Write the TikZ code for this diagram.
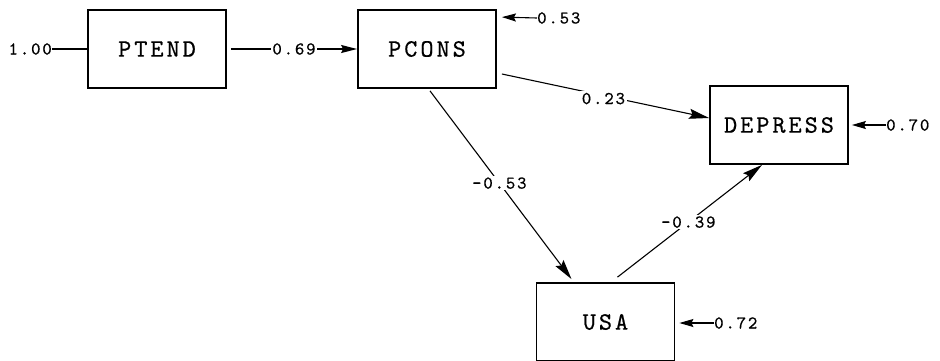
\documentclass[tikz,border=0pt]{standalone}
\usepackage{fontspec}
\newfontfamily\boxfont{lmmono10-regular}[Extension=.otf,LetterSpace=12,FakeBold=0.6]
\newfontfamily\numfont{lmmono10-regular}[Extension=.otf,LetterSpace=10,FakeBold=0.6]
\usetikzlibrary{arrows.meta}
\begin{document}
\begin{tikzpicture}[x=1pt,y=-1pt,
  varbox/.style={draw,line width=1.8pt,minimum width=138pt,minimum height=78pt,inner sep=0pt,font=\boxfont\fontsize{25}{27}\selectfont},
  path/.style={line width=1.1pt,-{Stealth[length=20pt,width=10pt,inset=3pt]}},
  resid/.style={line width=1.1pt,-{Stealth[length=14pt,width=8pt,inset=2pt]}},
  coef/.style={font=\numfont\fontsize{18}{20}\selectfont,inner sep=1.5pt,fill=white},
  rtext/.style={font=\numfont\fontsize{18}{20}\selectfont,inner sep=0pt,anchor=west}]
\useasboundingbox (0,0) rectangle (940,360);
\node[varbox] (ptend) at (157,49) {PTEND};
\node[varbox] (pcons) at (427,49) {PCONS};
\node[varbox] (depress) at (779,125) {DEPRESS};
\node[varbox] (usa) at (605.5,322) {USA};
% exogenous variance
\node[rtext,anchor=east] (v1) at (52,49) {1.00};
\draw[line width=1.4pt] (v1.east) -- (ptend.west);
% paths
\draw[path,line width=1.4pt,-{Stealth[length=16pt,width=8pt,inset=2pt]}] ([shift={(4,0)}]ptend.east) -- node[coef] {0.69} (pcons.west);
\draw[path] ([shift={(5,25)}]pcons.east) -- node[coef,pos=0.49,yshift=-3pt] {0.23} ([shift={(0,-7)}]depress.west);
\draw[path] ([shift={(3,2)}]pcons.south) -- node[coef,pos=0.49] {-0.53} ([shift={(-34,-3)}]usa.north);
\draw[path] ([shift={(12,-5)}]usa.north) -- node[coef,pos=0.49] {-0.39} ([shift={(-17,0)}]depress.south);
% residuals
\node[rtext] (r1) at (537,18) {0.53};
\draw[resid] (r1.west) -- ([shift={(5,8)}]pcons.north east);
\node[rtext] (r2) at (886,125) {0.70};
\draw[resid] (r2.west) -- ([shift={(3,0)}]depress.east);
\node[rtext] (r3) at (714,323) {0.72};
\draw[resid] (r3.west) -- ([shift={(4,1)}]usa.east);
\end{tikzpicture}
\end{document}
